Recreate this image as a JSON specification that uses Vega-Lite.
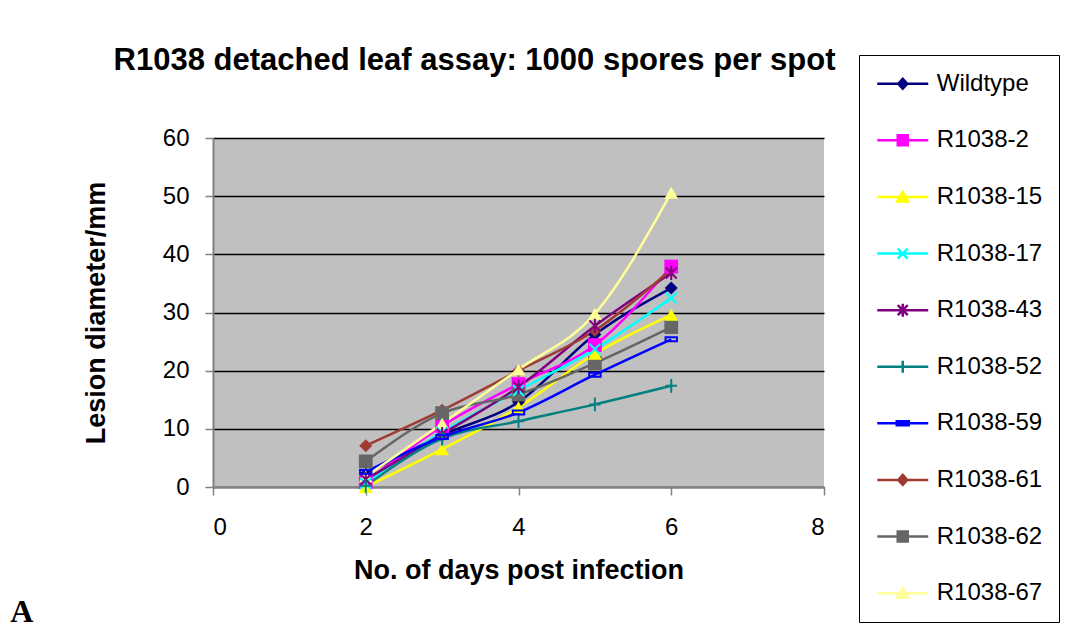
{
  "$schema": "https://vega.github.io/schema/vega-lite/v6.json",
  "background": "white",
  "padding": {"left": 10, "top": 45, "right": 245, "bottom": 10},
  "title": {"text": "A", "orient": "bottom", "anchor": "start", "font": "Liberation Serif", "fontSize": 32, "fontWeight": "bold", "color": "black", "dx": -72, "offset": -26},
  "config": {"font": "Liberation Sans", "view": {"stroke": null}},
  "datasets": {
    "lesions": [
      {"series": "Wildtype", "day": 2, "diameter": 2.2},
      {"series": "Wildtype", "day": 3, "diameter": 8.9},
      {"series": "Wildtype", "day": 4, "diameter": 14.6},
      {"series": "Wildtype", "day": 5, "diameter": 26.2},
      {"series": "Wildtype", "day": 6, "diameter": 34.2},
      {"series": "R1038-2", "day": 2, "diameter": 0.8},
      {"series": "R1038-2", "day": 3, "diameter": 10.5},
      {"series": "R1038-2", "day": 4, "diameter": 17.7},
      {"series": "R1038-2", "day": 5, "diameter": 24.4},
      {"series": "R1038-2", "day": 6, "diameter": 37.9},
      {"series": "R1038-15", "day": 2, "diameter": 0.0},
      {"series": "R1038-15", "day": 3, "diameter": 6.5},
      {"series": "R1038-15", "day": 4, "diameter": 13.7},
      {"series": "R1038-15", "day": 5, "diameter": 22.9},
      {"series": "R1038-15", "day": 6, "diameter": 29.6},
      {"series": "R1038-17", "day": 2, "diameter": 0.6},
      {"series": "R1038-17", "day": 3, "diameter": 9.4},
      {"series": "R1038-17", "day": 4, "diameter": 16.6},
      {"series": "R1038-17", "day": 5, "diameter": 23.7},
      {"series": "R1038-17", "day": 6, "diameter": 32.5},
      {"series": "R1038-43", "day": 2, "diameter": 1.3},
      {"series": "R1038-43", "day": 3, "diameter": 9.1},
      {"series": "R1038-43", "day": 4, "diameter": 17.2},
      {"series": "R1038-43", "day": 5, "diameter": 27.7},
      {"series": "R1038-43", "day": 6, "diameter": 36.8},
      {"series": "R1038-52", "day": 2, "diameter": 0.2},
      {"series": "R1038-52", "day": 3, "diameter": 8.3},
      {"series": "R1038-52", "day": 4, "diameter": 11.3},
      {"series": "R1038-52", "day": 5, "diameter": 14.2},
      {"series": "R1038-52", "day": 6, "diameter": 17.4},
      {"series": "R1038-59", "day": 2, "diameter": 2.6},
      {"series": "R1038-59", "day": 3, "diameter": 8.6},
      {"series": "R1038-59", "day": 4, "diameter": 12.8},
      {"series": "R1038-59", "day": 5, "diameter": 19.3},
      {"series": "R1038-59", "day": 6, "diameter": 25.4},
      {"series": "R1038-61", "day": 2, "diameter": 7.1},
      {"series": "R1038-61", "day": 3, "diameter": 13.2},
      {"series": "R1038-61", "day": 4, "diameter": 20.0},
      {"series": "R1038-61", "day": 5, "diameter": 26.9},
      {"series": "R1038-61", "day": 6, "diameter": 37.4},
      {"series": "R1038-62", "day": 2, "diameter": 4.4},
      {"series": "R1038-62", "day": 3, "diameter": 12.7},
      {"series": "R1038-62", "day": 4, "diameter": 15.9},
      {"series": "R1038-62", "day": 5, "diameter": 21.3},
      {"series": "R1038-62", "day": 6, "diameter": 27.5},
      {"series": "R1038-67", "day": 2, "diameter": 1.8},
      {"series": "R1038-67", "day": 3, "diameter": 10.9},
      {"series": "R1038-67", "day": 4, "diameter": 20.2},
      {"series": "R1038-67", "day": 5, "diameter": 29.8},
      {"series": "R1038-67", "day": 6, "diameter": 50.6}
    ]
  },
  "vconcat": [
    {
      "width": 611,
      "height": 349,
      "title": {"text": "R1038 detached leaf assay: 1000 spores per spot", "fontSize": 31, "fontWeight": "bold", "color": "black", "anchor": "middle", "dx": -44, "offset": 49},
      "view": {"fill": "#C0C0C0", "stroke": null},
      "data": {"name": "lesions"},
      "encoding": {
        "x": {"field": "day", "type": "quantitative", "scale": {"domain": [0, 8], "nice": false},
          "axis": {"values": [0, 2, 4, 6, 8], "grid": false, "tickSize": 8, "tickColor": "#808080", "tickWidth": 1.5, "domainColor": "#808080", "domainWidth": 2, "labelFontSize": 24, "labelColor": "black", "labelPadding": 20, "title": "No. of days post infection", "titleFontSize": 27, "titleFontWeight": "bold", "titleColor": "black", "titlePadding": 18}},
        "y": {"field": "diameter", "type": "quantitative", "scale": {"domain": [0, 60], "nice": false},
          "axis": {"values": [0, 10, 20, 30, 40, 50, 60], "grid": true, "gridColor": "black", "gridWidth": 1.5, "gridOpacity": 1, "tickSize": 8, "tickColor": "#808080", "tickWidth": 1.5, "domainColor": "#808080", "domainWidth": 2, "labelFontSize": 24, "labelColor": "black", "labelPadding": 16, "title": "Lesion diameter/mm", "titleFontSize": 27, "titleFontWeight": "bold", "titleColor": "black", "titlePadding": 52}}
      },
      "layer": [
        {
          "mark": {"type": "point", "size": 100, "strokeWidth": 2.5, "opacity": 0},
          "encoding": {
            "fill": {"field": "series", "type": "nominal",
              "scale": {"domain": ["Wildtype", "R1038-2", "R1038-15", "R1038-17", "R1038-43", "R1038-52", "R1038-59", "R1038-61", "R1038-62", "R1038-67"],
                        "range": ["#000080", "#FF00FF", "#FFFF00", "transparent", "transparent", "transparent", "#0000FF", "#9E3B33", "#666666", "#FFFF99"]},
              "legend": {"orient": "none", "legendX": 646, "legendY": -83, "title": null, "padding": 16.75, "strokeColor": "black", "fillColor": "white", "symbolSize": 100, "symbolStrokeWidth": 2.5, "symbolOffset": 15, "labelOffset": 22, "labelFontSize": 24, "labelColor": "black", "labelFont": "Liberation Sans", "rowPadding": 32.6,
                "encode": {"symbols": {"update": {"opacity": {"value": 1}}}}}},
            "stroke": {"field": "series", "type": "nominal",
              "scale": {"domain": ["Wildtype", "R1038-2", "R1038-15", "R1038-17", "R1038-43", "R1038-52", "R1038-59", "R1038-61", "R1038-62", "R1038-67"],
                        "range": ["#000080", "#FF00FF", "#FFFF00", "#00FFFF", "#800080", "#008080", "#0000FF", "#9E3B33", "#666666", "#FFFF99"]},
              "legend": {"orient": "none", "legendX": 646, "legendY": -83, "title": null, "padding": 16.75, "strokeColor": "black", "fillColor": "white", "symbolSize": 100, "symbolStrokeWidth": 2.5, "symbolOffset": 15, "labelOffset": 22, "labelFontSize": 24, "labelColor": "black", "labelFont": "Liberation Sans", "rowPadding": 32.6,
                "encode": {"symbols": {"update": {"opacity": {"value": 1}}}}}},
            "shape": {"field": "series", "type": "nominal",
              "scale": {"domain": ["Wildtype", "R1038-2", "R1038-15", "R1038-17", "R1038-43", "R1038-52", "R1038-59", "R1038-61", "R1038-62", "R1038-67"],
                        "range": [
                          "M-5.1,0L5.1,0M0,-1L0.9,0L0,1L-0.9,0Z",
                          "M-5.1,0L5.1,0M-1,-1L1,-1L1,1L-1,1Z",
                          "M-5.1,0L5.1,0M0,-1L1.1,0.9L-1.1,0.9Z",
                          "M-5.1,0L5.1,0M-1,-1L1,1M-1,1L1,-1",
                          "M-5.1,0L5.1,0M-1,-1L1,1M-1,1L1,-1M0,-1.3L0,1.3",
                          "M-5.1,0L5.1,0M0,-1.2L0,1.2",
                          "M-5.1,0L5.1,0M-1.2,-0.4L1.2,-0.4L1.2,0.4L-1.2,0.4Z",
                          "M-5.1,0L5.1,0M0,-1L0.9,0L0,1L-0.9,0Z",
                          "M-5.1,0L5.1,0M-1,-1L1,-1L1,1L-1,1Z",
                          "M-5.1,0L5.1,0M0,-1L1.1,0.9L-1.1,0.9Z"
                        ]},
              "legend": {"orient": "none", "legendX": 646, "legendY": -83, "title": null, "padding": 16.75, "strokeColor": "black", "fillColor": "white", "symbolSize": 100, "symbolStrokeWidth": 2.5, "symbolOffset": 15, "labelOffset": 22, "labelFontSize": 24, "labelColor": "black", "labelFont": "Liberation Sans", "rowPadding": 32.6,
                "encode": {"symbols": {"update": {"opacity": {"value": 1}}}}}}
          }
        },
        {"mark": {"type": "line", "strokeWidth": 2.5, "interpolate": "monotone"},
         "encoding": {"color": {"field": "series", "type": "nominal",
          "scale": {"domain": ["Wildtype", "R1038-2", "R1038-15", "R1038-17", "R1038-43", "R1038-52", "R1038-59", "R1038-61", "R1038-62", "R1038-67"],
                    "range": ["#000080", "#FF00FF", "#FFFF00", "#00FFFF", "#800080", "#008080", "#0000FF", "#9E3B33", "#666666", "#FFFF99"]},
          "legend": null}}},
        {"transform": [{"filter": {"field": "series", "oneOf": ["Wildtype", "R1038-61"]}}],
         "mark": {"type": "point", "shape": "diamond", "filled": true, "size": 170, "opacity": 1},
         "encoding": {"color": {"field": "series", "type": "nominal", "legend": null}}},
        {"transform": [{"filter": {"field": "series", "oneOf": ["R1038-2", "R1038-62"]}}],
         "mark": {"type": "point", "shape": "square", "filled": true, "size": 190, "opacity": 1},
         "encoding": {"color": {"field": "series", "type": "nominal", "legend": null}}},
        {"transform": [{"filter": {"field": "series", "oneOf": ["R1038-15", "R1038-67"]}}],
         "mark": {"type": "point", "shape": "triangle-up", "filled": true, "size": 190, "opacity": 1},
         "encoding": {"color": {"field": "series", "type": "nominal", "legend": null}}},
        {"transform": [{"filter": {"field": "series", "equal": "R1038-17"}}],
         "mark": {"type": "point", "shape": "M-1,-1L1,1M-1,1L1,-1", "filled": false, "size": 120, "strokeWidth": 2, "opacity": 1},
         "encoding": {"color": {"field": "series", "type": "nominal", "legend": null}}},
        {"transform": [{"filter": {"field": "series", "equal": "R1038-43"}}],
         "mark": {"type": "point", "shape": "M-1,-1L1,1M-1,1L1,-1M0,-1.3L0,1.3", "filled": false, "size": 120, "strokeWidth": 2, "opacity": 1},
         "encoding": {"color": {"field": "series", "type": "nominal", "legend": null}}},
        {"transform": [{"filter": {"field": "series", "equal": "R1038-52"}}],
         "mark": {"type": "point", "shape": "M-1,0L1,0M0,-1.2L0,1.2", "filled": false, "size": 130, "strokeWidth": 2, "opacity": 1},
         "encoding": {"color": {"field": "series", "type": "nominal", "legend": null}}},
        {"transform": [{"filter": {"field": "series", "equal": "R1038-59"}}],
         "mark": {"type": "point", "shape": "M-1,-0.35L1,-0.35L1,0.35L-1,0.35Z", "filled": false, "size": 130, "strokeWidth": 2, "opacity": 1},
         "encoding": {"color": {"field": "series", "type": "nominal", "legend": null}}}
      ]
    }
  ]
}
